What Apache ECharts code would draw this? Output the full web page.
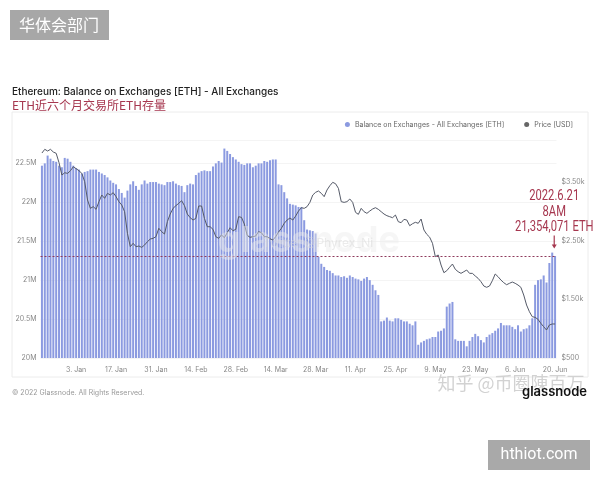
<!DOCTYPE html>
<html>
<head>
<meta charset="utf-8">
<script src="https://cdn.jsdelivr.net/npm/echarts@6/dist/echarts.min.js"></script>
<style>
html, body { margin: 0; padding: 0; background: #fff; }
#main { width: 600px; height: 480px; }
</style>
</head>
<body>
<div id="main"></div>
<script>
// daily bars, 22 Dec 2021 .. 20 Jun 2022
const startDate = Date.UTC(2021, 11, 22);
const dayCount = 181;
const monthNames = ['Jan', 'Feb', 'Mar', 'Apr', 'May', 'Jun', 'Jul', 'Aug', 'Sep', 'Oct', 'Nov', 'Dec'];
const tickLabels = ['3. Jan', '17. Jan', '31. Jan', '14. Feb', '28. Feb', '14. Mar', '28. Mar',
  '11. Apr', '25. Apr', '9. May', '23. May', '6. Jun', '20. Jun'];

// balance on exchanges, million ETH
const balance = [
  22.47, 22.50, 22.60, 22.56, 22.53, 22.52, 22.47, 22.45, 22.57, 22.56,
  22.52, 22.47, 22.44, 22.42, 22.37, 22.39, 22.40, 22.42, 22.42, 22.42,
  22.39, 22.37, 22.35, 22.32, 22.28, 22.25, 22.23, 22.17, 22.12, 22.06,
  22.15, 22.23, 22.27, 22.21, 22.16, 22.23, 22.28, 22.24, 22.26, 22.26,
  22.26, 22.24, 22.23, 22.22, 22.26, 22.26, 22.27, 22.24, 22.22, 22.21,
  22.13, 22.22, 22.24, 22.23, 22.35, 22.38, 22.40, 22.41, 22.40, 22.40,
  22.46, 22.50, 22.53, 22.51, 22.69, 22.66, 22.62, 22.58, 22.55, 22.52,
  22.49, 22.48, 22.50, 22.50, 22.45, 22.47, 22.50, 22.50, 22.53, 22.52,
  22.54, 22.55, 22.55, 22.23, 22.22, 22.13, 22.05, 21.98, 21.97, 21.96,
  21.94, 21.94, 21.77, 21.65, 21.64, 21.63, 21.60, 21.30, 21.21, 21.17,
  21.13, 21.12, 21.09, 21.06, 21.06, 21.04, 21.05, 21.03, 21.06, 21.04,
  21.02, 21.01, 20.99, 21.02, 21.04, 21.00, 20.94, 20.87, 20.81, 20.47,
  20.48, 20.52, 20.48, 20.47, 20.51, 20.51, 20.49, 20.47, 20.47, 20.44,
  20.42, 20.47, 20.17, 20.20, 20.22, 20.24, 20.25, 20.27, 20.27, 20.34,
  20.35, 20.38, 20.66, 20.70, 20.72, 20.24, 20.22, 20.22, 20.22, 20.15,
  20.22, 20.27, 20.31, 20.28, 20.23, 20.20, 20.27, 20.30, 20.32, 20.35,
  20.38, 20.45, 20.42, 20.42, 20.42, 20.40, 20.37, 20.42, 20.34, 20.37,
  20.38, 20.42, 20.51, 20.94, 21.00, 21.01, 21.06, 20.97, 21.22, 21.354,
  21.31
];

// ETH price, USD
const price = [
  3994, 4057, 4028, 4057, 4011, 3989, 3829, 3619, 3658, 3647,
  3692, 3760, 3727, 3692, 3647, 3505, 3193, 3051, 3080, 3034,
  3165, 3278, 3222, 3307, 3278, 3318, 3250, 3165, 3108, 2994,
  2625, 2397, 2455, 2397, 2409, 2386, 2426, 2482, 2528, 2540,
  2568, 2711, 2653, 2613, 2824, 2954, 3051, 3097, 3137, 3181,
  3097, 2954, 2892, 2852, 2880, 3091, 3091, 2880, 2738, 2738,
  2693, 2568, 2540, 2596, 2551, 2636, 2721, 2670, 2693, 2909,
  2897, 2784, 2591, 2557, 2568, 2580, 2653, 2636, 2568, 2568,
  2534, 2511, 2568, 2647, 2711, 2796, 2852, 2886, 2852, 2920,
  3005, 3062, 3051, 3080, 3153, 3278, 3324, 3347, 3307, 3250,
  3364, 3437, 3494, 3471, 3392, 3165, 3153, 3165, 3210, 3153,
  2983, 2949, 3051, 2994, 2966, 3005, 3040, 3062, 3034, 2994,
  2954, 2926, 2909, 2892, 2937, 2824, 2807, 2863, 2852, 2755,
  2789, 2813, 2796, 2869, 2682, 2608, 2560, 2455, 2227, 2256,
  2085, 1954, 1988, 2046, 2102, 2012, 1971, 1943, 1971, 2000,
  1943, 1943, 1898, 1858, 1801, 1727, 1705, 1727, 1818, 1932,
  1886, 1829, 1784, 1749, 1773, 1795, 1773, 1744, 1705, 1574,
  1403, 1289, 1204, 1193, 1160, 1091, 1034, 977, 1062, 1080,
  1080
];

const dashLevel = 21.31;   // hand-drawn dashed line
const peakIndex = 179;
const peakNote = ['2022.6.21', '8AM', '21,354,071 ETH'];

const days = [];
for (let i = 0; i < dayCount; i++) {
  const d = new Date(startDate + i * 86400000);
  days.push(d.getUTCDate() + '. ' + monthNames[d.getUTCMonth()]);
}

const red = '#a6374f';
const chart = echarts.init(document.getElementById('main'));

const option = {
  animation: false,
  textStyle: { fontFamily: 'Inter, Roboto, sans-serif' },
  grid: { left: 40.5, right: 43.5, top: 140, bottom: 122 },
  legend: {
    right: 22,
    top: 116,
    icon: 'circle',
    itemWidth: 5,
    itemHeight: 5,
    itemGap: 20,
    textStyle: { fontSize: 7, color: '#666' },
    data: ['Balance on Exchanges - All Exchanges [ETH]', 'Price [USD]']
  },
  xAxis: {
    type: 'category',
    data: days,
    axisLine: { show: false },
    axisTick: { show: false },
    axisLabel: {
      fontSize: 7,
      color: '#888',
      margin: 8,
      interval: (idx, val) => tickLabels.includes(val)
    }
  },
  yAxis: [
    {
      type: 'value',
      min: 20,
      max: 22.8,
      interval: 0.5,
      axisLabel: {
        fontSize: 7,
        color: '#888',
        margin: 4,
        showMaxLabel: false,
        formatter: v => v + 'M'
      },
      splitLine: { lineStyle: { color: '#f4f4f4' } }
    },
    {
      type: 'value',
      min: 500,
      max: 4216,
      interval: 1000,
      position: 'right',
      axisLabel: {
        fontSize: 7,
        color: '#888',
        margin: 5,
        showMaxLabel: false,
        formatter: v => v < 1000 ? '$' + v : '$' + (v / 1000).toFixed(2) + 'k'
      },
      splitLine: { show: false }
    }
  ],
  series: [
    {
      name: 'Balance on Exchanges - All Exchanges [ETH]',
      type: 'bar',
      data: balance,
      barWidth: '70%',
      itemStyle: { color: '#8b9ae0' },
      markLine: {
        silent: true,
        symbol: 'none',
        label: { show: false },
        lineStyle: { color: '#8e3a5c', type: [2, 2], width: 1 },
        data: [{ yAxis: dashLevel }]
      }
    },
    {
      name: 'Price [USD]',
      type: 'line',
      yAxisIndex: 1,
      data: price,
      showSymbol: false,
      itemStyle: { color: '#666' },
      lineStyle: { color: '#555a68', width: 1 },
      z: 3
    }
  ],
  graphic: [
    { type: 'rect', z: -1, shape: { x: 12, y: 112, width: 576, height: 265 },
      style: { fill: '#fff', stroke: '#ececec', lineWidth: 1 } },
    { type: 'rect', shape: { x: 10, y: 10, width: 99, height: 30 }, style: { fill: '#a7a7a7' } },
    { type: 'text', x: 59, y: 25, style: { text: '华体会部门', fill: '#fff', font: '16px "Noto Sans CJK SC"',
      textAlign: 'center', textVerticalAlign: 'middle' } },
    { type: 'text', x: 12, y: 92, style: { text: 'Ethereum: Balance on Exchanges [ETH] - All Exchanges',
      fill: '#222', font: '500 10px Inter, Roboto, sans-serif', textVerticalAlign: 'middle' } },
    { type: 'text', x: 12, y: 105, style: { text: 'ETH近六个月交易所ETH存量', fill: red,
      font: '12px "Noto Sans CJK SC"', textVerticalAlign: 'middle' } },
    { type: 'text', x: 12, y: 393, style: { text: '© 2022 Glassnode. All Rights Reserved.', fill: '#999',
      font: '7px Inter, Roboto, sans-serif', textVerticalAlign: 'middle' } },
    { type: 'text', z: 50, x: 400, y: 241, style: { text: 'glassnode', fill: 'rgba(236,236,236,0.45)',
      font: 'bold 36px Inter, Roboto, sans-serif', textAlign: 'right', textVerticalAlign: 'middle' } },
    { type: 'text', z: 50, x: 318, y: 243, style: { text: 'Twitter @Phyrex_Ni', fill: 'rgba(215,215,215,0.5)',
      font: '12px Inter, Roboto, sans-serif', textAlign: 'center', textVerticalAlign: 'middle' } },
    { type: 'text', z: 50, x: 511, y: 383, style: { text: '知乎 @币圈陳百万', fill: '#d2d2d2',
      font: '18px "Noto Sans CJK SC"', textAlign: 'center', textVerticalAlign: 'middle' } },
    { type: 'text', z: 51, x: 587, y: 392, style: { text: 'glassnode', fill: '#111',
      font: '600 13px Inter, Roboto, sans-serif', textAlign: 'right', textVerticalAlign: 'middle' } },
    { type: 'rect', shape: { x: 488, y: 440, width: 102, height: 30 }, style: { fill: '#a9a9a9' } },
    { type: 'text', x: 539, y: 455, style: { text: 'hthiot.com', fill: '#fff', font: '16px Roboto, sans-serif',
      textAlign: 'center', textVerticalAlign: 'middle' } }
  ]
};

chart.setOption(option);

// annotation anchored on the peak bar
const tip = chart.convertToPixel({ xAxisIndex: 0, yAxisIndex: 0 }, [peakIndex, balance[peakIndex]]);
const ax = tip[0] + 2;
const ay = tip[1] - 4;
const noteFont = '14px Roboto, sans-serif';
const extra = [
  { type: 'line', z: 60, shape: { x1: ax, y1: ay - 13, x2: ax, y2: ay - 3 }, style: { stroke: red, lineWidth: 1.2 } },
  { type: 'polygon', z: 60, shape: { points: [[ax - 2.5, ay - 4], [ax + 2.5, ay - 4], [ax, ay]] }, style: { fill: red } }
];
peakNote.forEach((t, k) => {
  extra.push({ type: 'text', z: 60, x: ax, y: ay - 52 + k * 15.5, scaleX: 0.8,
    style: { text: t, fill: red, font: noteFont, textAlign: 'center', textVerticalAlign: 'middle' } });
});
chart.setOption({ graphic: option.graphic.concat(extra) });
</script>
</body>
</html>
